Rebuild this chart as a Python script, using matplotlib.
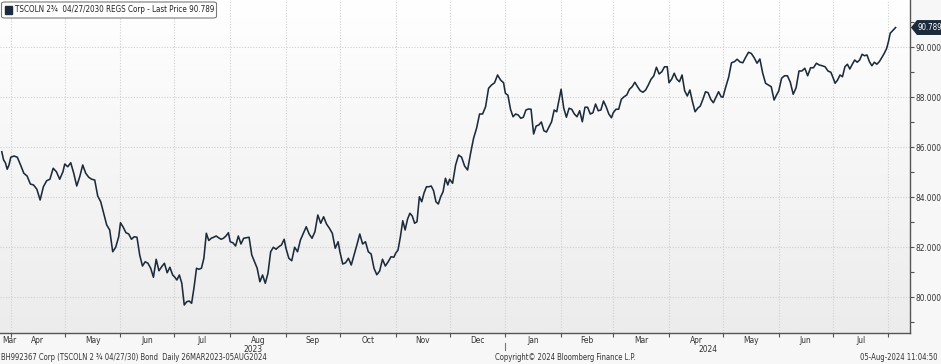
import numpy as np
import pandas as pd
import matplotlib
matplotlib.use('Agg')
import matplotlib.pyplot as plt
from matplotlib.colors import LinearSegmentedColormap
from matplotlib.patches import Polygon, FancyBboxPatch, Rectangle

plt.rcParams['font.family'] = ['DejaVu Sans']
plt.rcParams['font.stretch'] = 'condensed'

# daily last price, one list per calendar month
mar23 = [85.82, 85.49, 85.38, 85.12, 85.29]
apr23 = [85.6, 85.65, 85.6, 85.29, 84.96, 84.85, 84.53, 84.49, 84.32, 83.89, 84.42,
         84.66, 84.72, 85.16, 85.02, 84.72, 85.02]
may23 = [85.33, 85.22, 85.38, 84.96, 84.45, 84.82, 85.29, 84.96, 84.8, 84.72, 84.69,
         84.05, 83.82, 83.36, 82.89, 82.69, 81.82, 82.0, 82.42]
jun23 = [82.98, 82.8, 82.58, 82.53, 82.32, 82.42, 82.4, 81.69, 81.25, 81.42, 81.36,
         81.16, 80.8, 81.52, 81.06, 81.22, 81.36, 80.98, 81.2, 80.89]
jul23 = [80.82, 80.69, 80.89, 80.56, 79.69, 79.82, 79.85, 79.76, 80.4, 81.16, 81.12,
         81.16, 81.56, 82.56, 82.27, 82.36, 82.4, 82.45, 82.38, 82.32, 82.36, 82.45, 82.58]
aug23 = [82.22, 82.18, 82.05, 82.45, 82.13, 82.36, 82.38, 82.4, 81.69, 81.42, 81.16,
         80.62, 80.89, 80.56, 80.96, 81.82, 82.0, 81.92, 82.02, 82.09, 82.32]
sep23 = [81.96, 81.56, 81.46, 82.0, 81.82, 82.29, 82.55, 82.82, 82.53, 82.36, 82.62,
         83.29, 82.96, 83.22, 82.93, 82.76, 82.56, 81.96, 82.22]
oct23 = [81.82, 81.33, 81.38, 81.56, 81.29, 81.69, 82.1, 82.53, 82.13, 82.22, 81.82,
         81.73, 81.16, 80.9, 81.05, 81.52, 81.25, 81.42, 81.62, 81.6]
nov23 = [81.76, 81.89, 82.42, 83.06, 82.69, 83.12, 83.36, 83.25, 82.96, 83.02, 84.02,
         83.82, 84.18, 84.42, 84.42, 84.45, 84.26, 83.82, 83.73, 84.02, 84.22, 84.76, 84.49]
dec23 = [84.72, 84.56, 85.29, 85.69, 85.6, 85.25, 85.09, 85.76, 86.36, 86.76, 87.33,
         87.33, 87.62, 88.36, 88.49, 88.58, 88.89, 88.69, 88.58]
jan24 = [88.16, 88.08, 87.52, 87.22, 87.33, 87.29, 87.16, 87.2, 87.49, 87.53, 87.52,
         86.53, 86.85, 86.89, 87.01, 86.66, 86.61, 86.82, 87.02, 87.49, 87.42, 87.96]
feb24 = [88.32, 87.56, 87.2, 87.56, 87.52, 87.33, 87.22, 87.46, 87.02, 87.6, 87.6,
         87.33, 87.38, 87.73, 87.46, 87.49, 87.85, 87.62, 87.33, 87.18]
mar24 = [87.38, 87.52, 87.52, 87.92, 88.02, 88.09, 88.32, 88.42, 88.6, 88.42, 88.26,
         88.2, 88.29, 88.49, 88.72, 88.85, 89.2, 88.93, 89.02, 89.22, 89.22]
apr24 = [88.58, 88.72, 88.96, 88.72, 88.62, 88.89, 88.26, 88.05, 88.29, 87.82, 87.42,
         87.56, 87.65, 87.92, 88.22, 88.18, 87.92, 87.78, 88.0, 88.22, 88.02]
may24 = [88.0, 88.42, 88.8, 89.38, 89.42, 89.52, 89.41, 89.38, 89.6, 89.8, 89.75,
         89.58, 89.36, 89.53, 88.96, 88.56, 88.49, 88.42, 87.89, 88.12]
jun24 = [88.25, 88.76, 88.86, 88.86, 88.6, 88.12, 88.38, 89.05, 89.05, 89.16, 88.86,
         89.18, 89.18, 89.36, 89.29, 89.26, 89.22, 89.05, 89.0]
jul24 = [88.82, 88.56, 88.69, 88.89, 88.82, 89.22, 89.32, 89.13, 89.32, 89.49, 89.4,
         89.49, 89.72, 89.66, 89.69, 89.42, 89.26, 89.4, 89.32, 89.42, 89.58, 89.75, 89.95]
aug24_dates = ['2024-08-01', '2024-08-02', '2024-08-05']
aug24 = [90.22, 90.56, 90.789]

month_starts = ['2023-04-01', '2023-05-01', '2023-06-01', '2023-07-01', '2023-08-01',
                '2023-09-01', '2023-10-01', '2023-11-01', '2023-12-01', '2024-01-01',
                '2024-02-01', '2024-03-01', '2024-04-01', '2024-05-01', '2024-06-01',
                '2024-07-01']
month_vals = [apr23, may23, jun23, jul23, aug23, sep23, oct23, nov23, dec23,
              jan24, feb24, mar24, apr24, may24, jun24, jul24]

legend_text = 'TSCOLN 2\u00be  04/27/2030 REGS Corp - Last Price 90.789'
footer_left = 'BH992367 Corp (TSCOLN 2 \u00be 04/27/30) Bond  Daily 26MAR2023-05AUG2024'
footer_mid = 'Copyright\u00a9 2024 Bloomberg Finance L.P.'
footer_right = '05-Aug-2024 11:04:50'

# build the series
dates = list(pd.date_range('2023-03-27', '2023-03-31', periods=len(mar23)))
values = list(mar23)
for ms, vals in zip(month_starts, month_vals):
    start = pd.Timestamp(ms)
    end = start + pd.offsets.MonthEnd(0)
    dates += list(pd.date_range(start, end, periods=len(vals)))
    values += vals
dates += list(pd.to_datetime(aug24_dates))
values += aug24

navy = '#1c2b3b'
grid_c = '#d0d0d0'
txt_c = '#333333'
fs = 6.0
ffs = 5.5

fig = plt.figure(figsize=(9.41, 3.64), dpi=100)
fig.patch.set_facecolor('#f7f7f7')
ax = fig.add_axes([0.0, 1 - 333 / 364, 910 / 941, 333 / 364])

xmin = pd.Timestamp('2023-03-26')
xmax = pd.Timestamp('2024-08-13')
ymin, ymax = 78.57, 91.89

cmap = LinearSegmentedColormap.from_list('bg', ['#ffffff', '#ececec'])
ax.imshow(np.linspace(0, 1, 256).reshape(-1, 1), extent=(0, 1, 0, 1), origin='upper',
          aspect='auto', cmap=cmap, transform=ax.transAxes, zorder=0)

ax.plot(dates, values, color=navy, lw=1.15, zorder=3, solid_joinstyle='round')

ax.set_xlim(xmin, xmax)
ax.set_ylim(ymin, ymax)

# gridlines
ticks = pd.to_datetime(month_starts + ['2024-08-01'])
for t in ticks:
    ax.axvline(t, color=grid_c, lw=0.8, ls=(0, (1, 1.5)), zorder=1)
for v in range(80, 91, 2):
    ax.axhline(v, color=grid_c, lw=0.8, ls=(0, (1, 1.5)), zorder=1)

# x axis: ticks at month boundaries, labels centred in the visible month
ax.set_xticks(ticks)
ax.set_xticklabels([])
ax.tick_params(axis='x', which='major', length=3, width=0.8, color='#555555', direction='out')
label_months = pd.date_range('2023-03-01', '2024-07-01', freq='MS')
for m in label_months:
    if m < xmin:
        pos, ha = xmin + pd.Timedelta(days=1), 'left'
    else:
        b = m + pd.offsets.MonthEnd(0) + pd.Timedelta(days=1)
        pos, ha = m + (b - m) / 2, 'center'
    ax.text(pos, -0.008, m.strftime('%b'), transform=ax.get_xaxis_transform(),
            ha=ha, va='top', fontsize=fs, color=txt_c)
for yr in [2023, 2024]:
    a = max(pd.Timestamp(f'{yr}-01-01'), xmin)
    b = min(pd.Timestamp(f'{yr + 1}-01-01'), xmax)
    mid = a + (b - a) / 2
    ax.text(mid, -0.036, str(yr), transform=ax.get_xaxis_transform(),
            ha='center', va='top', fontsize=fs, color=txt_c)
ax.plot([pd.Timestamp('2024-01-01')] * 2, [-0.03, -0.05], color='#777777', lw=0.8,
        transform=ax.get_xaxis_transform(), clip_on=False)

# y axis on the right
ax.yaxis.tick_right()
ax.set_yticks(range(80, 91, 2))
ax.set_yticks(range(79, 92, 2), minor=True)
ax.set_yticklabels([f'{v:.3f}' for v in range(80, 91, 2)])
ax.tick_params(axis='y', which='both', length=3, width=0.8, color='#555555',
               labelsize=fs, labelcolor=txt_c, pad=1)

for s in ['left', 'top']:
    ax.spines[s].set_visible(False)
for s in ['right', 'bottom']:
    ax.spines[s].set_color('#555555')
    ax.spines[s].set_linewidth(1.0)

# last price tag
last = values[-1]
h = 0.27
tag = Polygon([(1.002, last), (1.008, last + h), (1.034, last + h), (1.034, last - h),
               (1.008, last - h)], closed=True, facecolor=navy, edgecolor=navy,
              transform=ax.get_yaxis_transform(), clip_on=False, zorder=5)
ax.add_patch(tag)
ax.text(1.0215, last, f'{last:.3f}', transform=ax.get_yaxis_transform(), ha='center',
        va='center', fontsize=5.7, color='white', zorder=6, clip_on=False)

# legend box top-left
box = FancyBboxPatch((1.5 / 941, 1 - 18 / 364), 215 / 941, 16 / 364,
                     boxstyle='round,pad=0,rounding_size=0.004', transform=fig.transFigure,
                     facecolor='white', edgecolor='#7a7a7a', lw=0.8, zorder=10)
fig.patches.append(box)
fig.patches.append(Rectangle((5 / 941, 1 - 13.5 / 364), 6.5 / 941, 7 / 364,
                             transform=fig.transFigure, facecolor=navy, edgecolor=navy,
                             zorder=11))
fig.text(15 / 941, 1 - 10 / 364, legend_text, ha='left', va='center', fontsize=5.8,
         color='#222222', zorder=12)

# footer
fig.text(1 / 941, 1 - 357.5 / 364, footer_left, ha='left', va='center', fontsize=ffs, color=txt_c)
fig.text(495 / 941, 1 - 358 / 364, footer_mid, ha='left', va='center', fontsize=ffs, color=txt_c)
fig.text(937 / 941, 1 - 357.5 / 364, footer_right, ha='right', va='center', fontsize=ffs,
         color=txt_c)

fig.savefig('out.png', dpi=100, facecolor=fig.get_facecolor())
